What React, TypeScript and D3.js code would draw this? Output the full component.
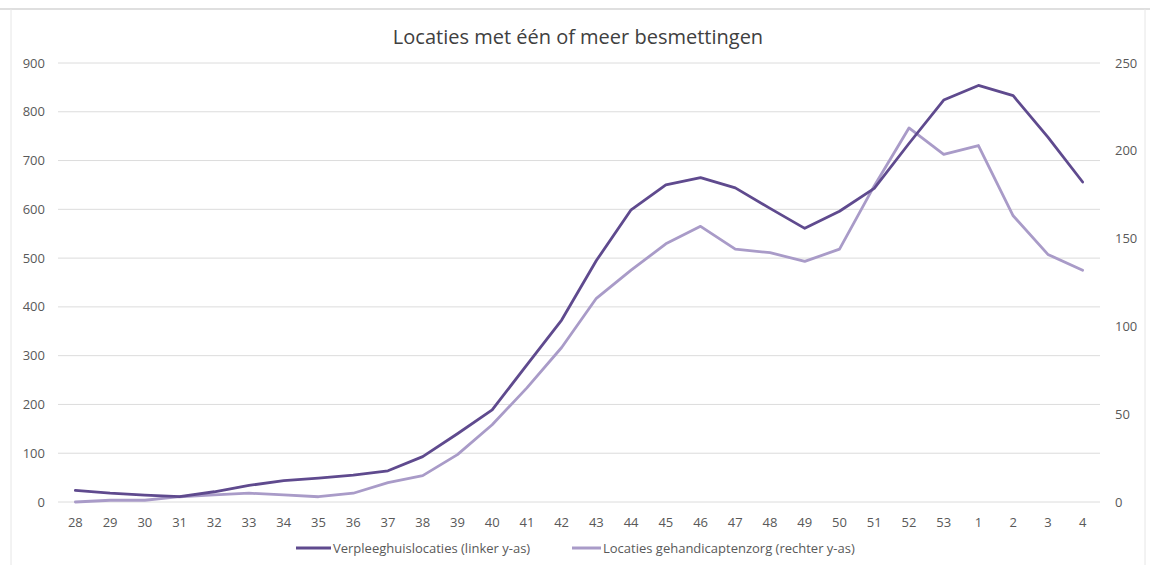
import React from 'react'
import * as d3 from 'd3'

const weeks = ['28', '29', '30', '31', '32', '33', '34', '35', '36', '37', '38', '39', '40', '41', '42', '43', '44', '45', '46', '47', '48', '49', '50', '51', '52', '53', '1', '2', '3', '4']

// Verpleeghuislocaties (linker y-as)
const verpleeghuis = [24, 18, 14, 11, 21, 34, 44, 49, 55, 64, 93, 140, 189, 281, 373, 495, 599, 650, 665, 644, 602, 561, 596, 643, 735, 824, 854, 833, 748, 656]
// Locaties gehandicaptenzorg (rechter y-as)
const gehandicapt = [0, 1, 1, 3, 4, 5, 4, 3, 5, 11, 15, 27, 44, 65, 88, 116, 132, 147, 157, 144, 142, 137, 144, 180, 213, 198, 203, 163, 141, 132]

const leftTicks = [0, 100, 200, 300, 400, 500, 600, 700, 800, 900]
const rightTicks = [0, 50, 100, 150, 200, 250]

const width = 1150,
      height = 565,
      left = 58,
      right = 1100,
      top = 63,
      bottom = 502

const darkColor = '#5f4a8e'
const lightColor = '#a99bc8'
const font = "'Open Sans', 'Noto Sans', sans-serif"

const App = () => {
  // x: één band per week
  const xScale = d3.scaleBand<string>().domain(weeks).range([left, right])
  const xPos = (w: string) => (xScale(w) as number) + xScale.bandwidth() / 2

  const yLeft = d3.scaleLinear().domain([0, 900]).range([bottom, top])
  const yRight = d3.scaleLinear().domain([0, 250]).range([bottom, top])

  const lineLeft = d3.line<number>()
                     .x((d, i) => xPos(weeks[i]))
                     .y(d => yLeft(d))
  const lineRight = d3.line<number>()
                      .x((d, i) => xPos(weeks[i]))
                      .y(d => yRight(d))

  return (
    <svg width={width} height={height} style={{ position: 'absolute', left: 0, top: 0, background: '#fff' }}>
      {/* kader */}
      <line x1={0} x2={width} y1={9} y2={9} stroke='#d4d4d4' strokeWidth={1.5} />
      <line x1={11} x2={11} y1={9} y2={height} stroke='#e6e6e6' strokeWidth={1} />
      <line x1={1145} x2={1145} y1={9} y2={height} stroke='#e6e6e6' strokeWidth={1} />

      <text x={578} y={44} textAnchor='middle' fontFamily={font} fontSize={20} fill='#404040'>
        Locaties met één of meer besmettingen
      </text>

      {/* rasterlijnen + linker as */}
      <g id='yAxisLeft'>
        {leftTicks.map(t => (
          <g key={t}>
            <line x1={left} x2={right} y1={yLeft(t)} y2={yLeft(t)} stroke='#dcdcdc' strokeWidth={1} />
            <text x={45} y={yLeft(t) + 4.5} textAnchor='end' fontFamily={font} fontSize={13} fill='#595959'>{t}</text>
          </g>
        ))}
      </g>

      <g id='yAxisRight'>
        {rightTicks.map(t => (
          <text key={t} x={1115} y={yRight(t) + 4.5} textAnchor='start' fontFamily={font} fontSize={13} fill='#595959'>{t}</text>
        ))}
      </g>

      <g id='xAxis'>
        {weeks.map(w => (
          <text key={w} x={xPos(w)} y={527} textAnchor='middle' fontFamily={font} fontSize={13} fill='#595959'>{w}</text>
        ))}
      </g>

      <path d={lineRight(gehandicapt) || ''} fill='none' stroke={lightColor} strokeWidth={2.8} strokeLinejoin='round' strokeLinecap='round' />
      <path d={lineLeft(verpleeghuis) || ''} fill='none' stroke={darkColor} strokeWidth={2.8} strokeLinejoin='round' strokeLinecap='round' />

      {/* legenda */}
      <g id='legend' fontFamily={font} fontSize={13} fill='#595959'>
        <line x1={296} x2={331} y1={548} y2={548} stroke={darkColor} strokeWidth={3} />
        <text x={333} y={552.5}>Verpleeghuislocaties (linker y-as)</text>
        <line x1={572} x2={601} y1={548} y2={548} stroke={lightColor} strokeWidth={3} />
        <text x={603} y={552.5}>Locaties gehandicaptenzorg (rechter y-as)</text>
      </g>
    </svg>
  )
}

export default App
